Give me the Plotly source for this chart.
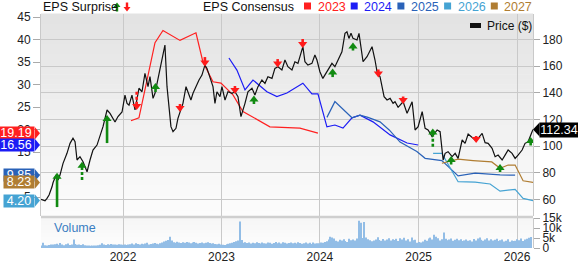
import pandas as pd
import plotly.graph_objects as go

# ------------------------------------------------------------------ data
# time values are decimal years
price_t = [2021.168, 2021.208, 2021.228, 2021.249, 2021.279, 2021.289, 2021.320, 2021.340, 2021.360, 2021.391,
           2021.431, 2021.462, 2021.492, 2021.513, 2021.533, 2021.563, 2021.594, 2021.635, 2021.665, 2021.695,
           2021.736, 2021.766, 2021.797, 2021.838, 2021.868, 2021.919, 2021.949, 2021.990, 2022.020, 2022.041,
           2022.061, 2022.091, 2022.122, 2022.162, 2022.193, 2022.223, 2022.254, 2022.274, 2022.305, 2022.325,
           2022.355, 2022.386, 2022.406, 2022.426, 2022.447, 2022.457, 2022.487, 2022.508, 2022.538, 2022.558,
           2022.589, 2022.609, 2022.640, 2022.660, 2022.690, 2022.711, 2022.751, 2022.772, 2022.802, 2022.832,
           2022.853, 2022.883, 2022.914, 2022.934, 2022.954, 2022.985, 2023.005, 2023.036, 2023.066, 2023.107,
           2023.137, 2023.168, 2023.198, 2023.239, 2023.269, 2023.310, 2023.340, 2023.371, 2023.411, 2023.442,
           2023.472, 2023.513, 2023.543, 2023.574, 2023.614, 2023.645, 2023.675, 2023.716, 2023.746, 2023.777,
           2023.807, 2023.827, 2023.848, 2023.878, 2023.919, 2023.949, 2023.970, 2024.000, 2024.030, 2024.061,
           2024.081, 2024.122, 2024.152, 2024.183, 2024.223, 2024.254, 2024.274, 2024.294, 2024.315, 2024.335,
           2024.376, 2024.396, 2024.437, 2024.477, 2024.528, 2024.558, 2024.579, 2024.609, 2024.650, 2024.680,
           2024.711, 2024.741, 2024.761, 2024.792, 2024.812, 2024.843, 2024.883, 2024.934, 2024.964, 2024.995,
           2025.036, 2025.066, 2025.096, 2025.137, 2025.188, 2025.218, 2025.249, 2025.269, 2025.299, 2025.340,
           2025.371, 2025.401, 2025.442, 2025.472, 2025.503, 2025.543, 2025.574, 2025.604, 2025.645, 2025.675,
           2025.706, 2025.746, 2025.777, 2025.807, 2025.848, 2025.878, 2025.909, 2025.949, 2025.980, 2026.010,
           2026.051, 2026.081, 2026.112, 2026.152, 2026.162]
price_v = [60.0, 58.9, 60.7, 63.2, 69.4, 72.4, 78.2, 74.5, 78.2, 87.0,
           94.5, 102.0, 105.8, 103.2, 89.5, 92.0, 88.2, 80.7, 89.5, 97.0,
           100.7, 108.2, 114.5, 127.0, 124.5, 118.0, 122.1, 125.5, 138.2, 132.0,
           130.7, 138.2, 127.0, 143.3, 140.7, 154.5, 144.5, 152.0, 135.7, 139.5,
           150.7, 162.0, 167.0, 175.7, 144.5, 135.7, 114.5, 110.7, 113.3, 120.7,
           128.2, 132.0, 144.5, 140.7, 134.5, 139.5, 147.0, 149.5, 153.2, 160.7,
           158.2, 150.7, 144.5, 132.0, 140.7, 137.0, 144.5, 134.5, 140.7, 139.5,
           140.7, 137.0, 122.0, 132.0, 140.7, 143.3, 138.2, 144.5, 149.5, 147.0,
           152.0, 150.7, 158.2, 159.5, 157.0, 164.5, 159.5, 157.0, 163.2, 162.0,
           169.5, 174.5, 163.2, 160.7, 162.0, 168.2, 164.5, 155.7, 150.7, 154.5,
           157.0, 162.0, 159.5, 164.5, 170.7, 184.5, 185.7, 180.7, 184.5, 180.7,
           179.5, 184.5, 163.2, 167.0, 174.5, 164.5, 155.7, 152.0, 137.0, 134.5,
           135.7, 132.0, 133.2, 129.0, 130.7, 133.2, 124.5, 133.2, 112.0, 114.5,
           125.7, 113.3, 112.0, 107.0, 112.0, 110.7, 89.5, 94.5, 95.7, 92.0,
           94.5, 90.7, 104.5, 102.0, 109.0, 106.5, 104.5, 105.7, 109.5, 102.5,
           102.0, 98.2, 92.0, 93.2, 89.5, 93.2, 97.0, 94.5, 90.7, 93.2,
           97.0, 102.0, 103.2, 110.7, 112.34]

cons_2023_t = [2022.081, 2022.162, 2022.325, 2022.406, 2022.579, 2022.741, 2022.812, 2022.914, 2022.995,
               2023.117, 2023.218, 2023.492, 2023.797, 2023.980]
cons_2023_v = [21.96, 22.6, 39.3, 42.0, 39.8, 41.5, 35.0, 30.6, 30.3, 27.7, 24.0, 20.6, 20.3, 19.19]
cons_2024_t = [2023.076, 2023.157, 2023.239, 2023.320, 2023.462, 2023.563, 2023.665, 2023.827, 2023.919,
               2023.980, 2024.071, 2024.152, 2024.234, 2024.325, 2024.406, 2024.538, 2024.711, 2024.883, 2024.995]
cons_2024_v = [35.9, 33.2, 28.8, 31.0, 28.4, 27.3, 28.1, 30.3, 27.9, 27.9, 20.6, 21.0, 20.3, 22.6, 23.2,
               21.7, 18.8, 17.0, 16.56]
cons_2025_t = [2024.071, 2024.152, 2024.325, 2024.406, 2024.487, 2024.609, 2024.702, 2024.812, 2024.982,
               2025.066, 2025.236, 2025.401, 2025.574, 2025.827, 2025.980]
cons_2025_v = [22.7, 26.2, 22.6, 23.2, 22.7, 21.7, 19.9, 17.2, 15.1, 13.6, 13.1, 9.7, 10.3, 9.9, 9.85]
cons_2026_t = [2025.147, 2025.236, 2025.401, 2025.574, 2025.726, 2025.827, 2025.980, 2026.061, 2026.162]
cons_2026_v = [14.7, 14.7, 8.4, 8.3, 7.9, 6.3, 6.7, 4.7, 4.20]
cons_2027_t = [2025.236, 2025.401, 2025.553, 2025.743, 2025.827, 2025.909, 2025.980, 2026.061, 2026.162]
cons_2027_v = [12.5, 13.4, 13.1, 12.8, 11.4, 12.1, 12.1, 8.6, 8.23]

cons_years = ['2023', '2024', '2025', '2026', '2027']
cons_current = [19.19, 16.56, 9.85, 4.20, 8.23]

surprise_t = [2021.330, 2021.584, 2021.838, 2022.139, 2022.330, 2022.579, 2022.832, 2023.137, 2023.330, 2023.571,
              2023.825, 2024.129, 2024.335, 2024.592, 2024.843, 2025.144, 2025.330, 2025.584, 2025.827, 2026.138]
surprise_dir = ['up', 'up', 'up', 'down', 'up', 'down', 'down', 'down', 'up', 'down',
                'down', 'up', 'up', 'down', 'down', 'up', 'up', 'down', 'up', 'up']
surprise_tip = [80.0, 88.2, 123.2, 127.0, 147.2, 125.5, 159.6, 139.0, 137.8, 158.9,
                173.5, 158.1, 177.6, 151.4, 131.5, 113.2, 92.5, 102.2, 86.5, 106.7]
surprise_tail = [54.2, 74.5, 102.2, 140.7, 140.5, 131.5, 166.7, 145.0, 131.5, 165.2,
                 180.2, 151.7, 171.6, 157.4, 137.1, 99.4, 86.1, 107.5, 80.5, 100.4]
surprise_dashed = [False, True, False, True, False, False, False, False, False, False,
                   True, False, False, False, False, True, False, False, False, False]

last_price = 112.34

# weekly volume, thousands of shares
volume_start = '2021-03-05'
vol_2021 = [1.3, 2.6, 1.4, 1.2, 1.5, 1.8, 1.7, 1.9, 2.1, 1.6, 2.5, 1.8, 1.4, 1.9, 2.2, 1.5, 1.7, 4.3, 2.0, 1.6,
            1.8, 1.5, 1.9, 1.4, 1.2, 1.3, 1.1, 1.2, 1.3, 1.2, 1.4, 1.6, 2.4, 1.8, 1.5, 1.9, 1.6, 2.0, 1.7, 1.8,
            1.6, 1.9, 1.7]
vol_2022 = [1.6, 1.8, 1.5, 1.7, 1.9, 2.2, 1.8, 2.4, 2.0, 1.7, 2.1, 1.9, 2.3, 2.6, 1.8, 2.0, 2.2, 2.5, 2.1, 1.9,
            2.4, 2.8, 3.2, 3.6, 4.0, 5.6, 3.8, 2.9, 2.6, 3.1, 2.7, 2.5, 2.9, 2.6, 3.0, 2.8, 2.4, 2.7, 3.0, 2.6,
            2.3, 2.5, 2.8, 2.4, 2.6, 2.9, 2.5, 2.2, 2.4, 2.0, 1.9, 2.1]
vol_2023 = [1.8, 1.6, 1.5, 1.9, 2.1, 2.4, 2.6, 3.0, 3.4, 3.8, 13.2, 4.0, 2.6, 2.9, 2.5, 2.8, 2.3, 2.6, 2.4, 2.9,
            2.5, 2.2, 2.7, 2.4, 2.3, 2.8, 2.6, 2.1, 2.5, 3.0, 2.4, 2.7, 2.3, 2.9, 2.6, 2.2, 2.5, 2.8, 2.4, 2.6,
            2.3, 2.9, 2.5, 2.1, 2.4, 2.7, 2.3, 2.6, 2.0, 2.8, 2.2, 2.4]
vol_2024 = [2.4, 2.8, 2.6, 3.0, 3.4, 4.2, 5.6, 5.2, 4.8, 3.6, 3.2, 4.1, 3.8, 4.4, 3.5, 3.0, 4.6, 3.9, 4.3, 3.7,
            4.8, 13.6, 12.6, 5.0, 13.0, 5.2, 4.4, 3.9, 3.4, 3.8, 4.2, 5.4, 4.0, 3.6, 4.5, 3.8, 4.2, 4.9, 3.7, 4.4,
            4.0, 4.6, 3.5, 4.9, 4.2, 5.1, 3.8, 4.4, 3.3, 5.3, 3.9, 4.1]
vol_2025 = [2.6, 3.0, 2.8, 3.3, 4.1, 3.6, 4.8, 5.2, 4.3, 6.6, 5.6, 4.9, 3.8, 4.4, 7.8, 4.6, 3.9, 4.2, 4.8, 3.6,
            4.1, 4.6, 3.9, 4.4, 3.5, 3.8, 4.2, 3.6, 3.9, 3.3, 4.5, 3.8, 4.7, 5.2, 4.1, 3.6, 4.3, 4.9, 3.8, 4.4,
            3.7, 4.1, 4.6, 3.5, 3.9, 4.3, 3.2, 3.6, 4.4, 3.1, 3.8, 3.5]
vol_2026 = [3.6, 4.4, 3.9, 4.8, 3.5, 4.2, 4.6, 5.1, 5.5]

year_ticks = ['2022', '2023', '2024', '2025', '2026']
price_ticks = [60, 80, 100, 120, 140, 160, 180]
eps_ticks = [5, 10, 15, 20, 25, 30, 35, 40, 45]
vol_ticks = [0, 5, 10, 15]
vol_ticktext = ['0', '5k', '10k', '15k']

# ------------------------------------------------------------------ layout geometry
W, H = 578, 264
ML, MR, MT, MB = 41, 45, 14, 16
PW, PH = W - ML - MR, H - MT - MB


def fx(px):
    return (px - ML) / PW


def fy(py):
    return (H - MB - py) / PH


MAIN_DOM = [fy(216), 1.0]
VOL_DOM = [0.0, fy(218)]
PRICE_RANGE = [47.5, 199.0]
EPS_RANGE = [0.78, 45.67]
VOL_RANGE = [0, 15.0]
X_RANGE = ['2021-03-03', '2026-03-01']
FONT = 'Arial, "Liberation Sans", sans-serif'

COLORS = {'2023': '#ff2020', '2024': '#1c1cf5', '2025': '#2a62b8', '2026': '#45a3d3', '2027': '#b07d32'}


def to_date(t):
    y = int(t)
    a = pd.Timestamp(year=y, month=1, day=1)
    b = pd.Timestamp(year=y + 1, month=1, day=1)
    return a + (b - a) * (t - y)


def dates(ts):
    return [to_date(t) for t in ts]


fig = go.Figure()

# volume
volume = vol_2021 + vol_2022 + vol_2023 + vol_2024 + vol_2025 + vol_2026
vol_dates = pd.date_range(volume_start, periods=len(volume), freq='7D')
fig.add_trace(go.Bar(x=vol_dates, y=volume, yaxis='y3', marker=dict(color='#92bde6', line=dict(width=0)),
                     width=4 * 86400000, showlegend=False, hoverinfo='skip'))

# consensus lines (EPS axis)
cons = {'2023': (cons_2023_t, cons_2023_v), '2024': (cons_2024_t, cons_2024_v),
        '2025': (cons_2025_t, cons_2025_v), '2026': (cons_2026_t, cons_2026_v),
        '2027': (cons_2027_t, cons_2027_v)}
for yr in cons_years:
    t, v = cons[yr]
    fig.add_trace(go.Scatter(x=dates(t), y=v, mode='lines', yaxis='y',
                             line=dict(color=COLORS[yr], width=1.2), showlegend=False, hoverinfo='skip'))

# price line
fig.add_trace(go.Scatter(x=dates(price_t), y=price_v, mode='lines', yaxis='y2',
                         line=dict(color='#111111', width=1.2), showlegend=False))

# EPS surprise arrows
ppx = (PRICE_RANGE[1] - PRICE_RANGE[0]) / (216 - MT)   # price units per pixel
HEAD_OFF = 4 * ppx
groups = {}
for t, d, tip, tail, dash in zip(surprise_t, surprise_dir, surprise_tip, surprise_tail, surprise_dashed):
    sign = 1 if d == 'up' else -1
    end = tip - sign * 3 * ppx
    key = (d, dash)
    xs, ys = groups.setdefault(key, ([], []))
    xs += [to_date(t), to_date(t), None]
    ys += [tail, end, None]
for (d, dash), (xs, ys) in groups.items():
    col = '#118a11' if d == 'up' else '#ff1a1a'
    fig.add_trace(go.Scatter(x=xs, y=ys, mode='lines', yaxis='y2',
                             line=dict(color=col, width=2.6, dash='3px,2px' if dash else 'solid'),
                             showlegend=False, hoverinfo='skip'))
for d in ['up', 'down']:
    sel = [i for i, v in enumerate(surprise_dir) if v == d]
    sign = 1 if d == 'up' else -1
    fig.add_trace(go.Scatter(
        x=[to_date(surprise_t[i]) for i in sel],
        y=[surprise_tip[i] - sign * HEAD_OFF for i in sel],
        mode='markers', yaxis='y2',
        marker=dict(symbol='triangle-up' if d == 'up' else 'triangle-down', size=8,
                    color='#118a11' if d == 'up' else '#ff1a1a', line=dict(width=0)),
        showlegend=False, hoverinfo='skip'))

# ------------------------------------------------------------------ shapes / annotations
shapes = []
annotations = []

# background gradients
N = 40
for i in range(N):
    f = i / N
    c = int(round(252 - (252 - 226) * f))
    y0 = MAIN_DOM[0] + (MAIN_DOM[1] - MAIN_DOM[0]) * i / N
    y1 = MAIN_DOM[0] + (MAIN_DOM[1] - MAIN_DOM[0]) * (i + 1) / N
    shapes.append(dict(type='rect', xref='paper', yref='paper', x0=0, x1=1, y0=y0, y1=y1 + 0.002,
                       fillcolor=f'rgb({c},{c},{c})', line=dict(width=0), layer='below'))
M = 8
for i in range(M):
    c = int(round(253 - 8 * i / M))
    y0 = VOL_DOM[1] * i / M
    y1 = VOL_DOM[1] * (i + 1) / M
    shapes.append(dict(type='rect', xref='paper', yref='paper', x0=0, x1=1, y0=y0, y1=y1 + 0.002,
                       fillcolor=f'rgb({c},{c},{c})', line=dict(width=0), layer='below'))
# separator between panels
shapes.append(dict(type='line', xref='paper', yref='paper', x0=0, x1=1, y0=fy(217), y1=fy(217),
                   line=dict(color='#cfcfcf', width=2.5), layer='above'))

# top titles
annotations.append(dict(text='EPS Surprise', xref='paper', yref='paper', x=fx(41), y=fy(7),
                        xanchor='left', yanchor='middle', showarrow=False, font=dict(size=12.5, color='#111')))
annotations.append(dict(text='EPS Consensus', xref='paper', yref='paper', x=fx(201), y=fy(7),
                        xanchor='left', yanchor='middle', showarrow=False, font=dict(size=12.5, color='#111')))
# legend arrows
shapes.append(dict(type='path', xref='paper', yref='paper', xsizemode='pixel', ysizemode='pixel',
                   xanchor=fx(117), yanchor=fy(7), path='M0,4.5 L-3.5,0 L-1.2,0 L-1.2,-4.5 L1.2,-4.5 L1.2,0 L3.5,0 Z',
                   fillcolor='#118a11', line=dict(width=0)))
shapes.append(dict(type='path', xref='paper', yref='paper', xsizemode='pixel', ysizemode='pixel',
                   xanchor=fx(127), yanchor=fy(7), path='M0,-4.5 L-3.5,0 L-1.2,0 L-1.2,4.5 L1.2,4.5 L1.2,0 L3.5,0 Z',
                   fillcolor='#ff1a1a', line=dict(width=0)))
# year legend
for k, yr in enumerate(cons_years):
    sq = 304 + 46.7 * k
    shapes.append(dict(type='rect', xref='paper', yref='paper', x0=fx(sq), x1=fx(sq + 7), y0=fy(9.5), y1=fy(2.5),
                       fillcolor=COLORS[yr], line=dict(width=0)))
    annotations.append(dict(text=yr, xref='paper', yref='paper', x=fx(sq + 11.5), y=fy(7), xanchor='left',
                            yanchor='middle', showarrow=False, font=dict(size=12.5, color=COLORS[yr])))

# price legend
shapes.append(dict(type='rect', xref='paper', yref='paper', x0=fx(470), x1=fx(481), y0=fy(28), y1=fy(23),
                   fillcolor='#111', line=dict(width=0)))
annotations.append(dict(text='Price ($)', xref='paper', yref='paper', x=fx(485), y=fy(26), xanchor='left',
                        yanchor='middle', showarrow=False, font=dict(size=12, color='#111')))

# volume label
annotations.append(dict(text='Volume', xref='paper', yref='paper', x=fx(52), y=fy(228), xanchor='left',
                        yanchor='middle', showarrow=False, font=dict(size=12.5, color='#3a7ec2')))

# consensus flags (left)
flag_order = ['2023', '2024', '2025', '2027', '2026']
for yr in flag_order:
    val = cons_current[cons_years.index(yr)]
    label = f'{val:.2f}'
    bw = 36 if len(label) > 4 else 30
    shapes.append(dict(type='path', xref='paper', yref='y', xsizemode='pixel', ysizemode='pixel',
                       xanchor=0, yanchor=val, path='M-6,6 L-1,0 L-6,-6 Z',
                       fillcolor=COLORS[yr], line=dict(width=0)))
    annotations.append(dict(text=label, xref='paper', yref='y', x=fx(35), y=val, xanchor='right',
                            yanchor='middle', showarrow=False, width=bw, height=12, borderpad=0,
                            bgcolor=COLORS[yr], font=dict(size=12.5, color='white')))

# last price flag (right)
shapes.append(dict(type='path', xref='paper', yref='y2', xsizemode='pixel', ysizemode='pixel',
                   xanchor=1, yanchor=last_price, path='M0,0 L6.5,7 L6.5,-7 Z',
                   fillcolor='#000', line=dict(width=0)))
annotations.append(dict(text=f'{last_price:.2f}', xref='paper', yref='y2', x=fx(539), y=last_price,
                        xanchor='left', yanchor='middle', showarrow=False, width=38, height=14, borderpad=0,
                        bgcolor='#000', font=dict(size=12.5, color='white')))

axis_font = dict(size=12, color='#222')
fig.update_layout(
    width=W, height=H, margin=dict(l=ML, r=MR, t=MT, b=MB, pad=0),
    paper_bgcolor='white', plot_bgcolor='rgba(0,0,0,0)',
    font=dict(family=FONT), showlegend=False,
    xaxis=dict(type='date', range=X_RANGE, anchor='y3', domain=[0, 1],
               tickvals=[f'{y}-01-01' for y in year_ticks], ticktext=year_ticks,
               showgrid=True, gridcolor='#c9c9c9', gridwidth=1, ticks='', showline=False,
               zeroline=False, tickfont=axis_font, automargin=False),
    yaxis=dict(domain=MAIN_DOM, range=EPS_RANGE, side='left', tickvals=eps_ticks,
               showgrid=False, zeroline=False, ticks='outside', ticklen=7, tickcolor='#aaaaaa',
               showline=True, linecolor='#c9c9c9', tickfont=axis_font, automargin=False),
    yaxis2=dict(overlaying='y', range=PRICE_RANGE, side='right', tickvals=price_ticks,
                showgrid=True, gridcolor='#c9c9c9', gridwidth=1, zeroline=False, ticks='outside',
                ticklen=6, tickcolor='#aaaaaa', showline=True, linecolor='#c9c9c9', tickfont=axis_font,
                automargin=False),
    yaxis3=dict(domain=VOL_DOM, range=VOL_RANGE, side='right', anchor='x', tickvals=vol_ticks,
                ticktext=vol_ticktext, showgrid=False, zeroline=False, ticks='outside', ticklen=6,
                tickcolor='#aaaaaa', showline=True, linecolor='#c9c9c9', tickfont=axis_font,
                automargin=False),
    shapes=shapes, annotations=annotations,
)

fig.write_html('out.html')
